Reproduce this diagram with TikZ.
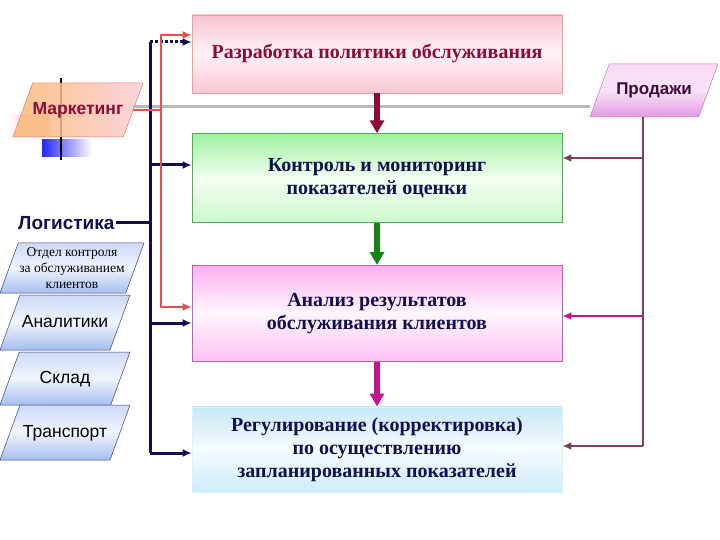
\documentclass[tikz,border=0pt]{standalone}
\usepackage{fontspec}
\setmainfont{Liberation Serif}
\setsansfont{Liberation Sans}
\usetikzlibrary{arrows.meta,positioning,shapes.geometric}
\definecolor{dred}{RGB}{139,10,58}
\definecolor{navy}{RGB}{16,16,80}
\definecolor{purl}{RGB}{128,64,96}
\definecolor{magl}{RGB}{196,20,150}
\definecolor{grnl}{RGB}{20,130,20}
\definecolor{redl}{RGB}{232,80,80}

\begin{document}
\begin{tikzpicture}[x=1pt,y=-1pt,
box/.style={draw=#1,line width=0.6pt,minimum width=370pt,align=center,text=navy,font=\bfseries\fontsize{20}{23}\selectfont},
pinkbox/.style={box=pink!80!red,top color={rgb,255:red,248;green,196;blue,208},bottom color={rgb,255:red,248;green,200;blue,212},middle color={rgb,255:red,255;green,242;blue,245}},
greenbox/.style={box=green!40!gray,top color={rgb,255:red,160;green,240;blue,160},bottom color={rgb,255:red,205;green,248;blue,205},middle color={rgb,255:red,242;green,255;blue,242}},
magbox/.style={box=violet!60,top color={rgb,255:red,255;green,176;blue,240},bottom color={rgb,255:red,255;green,192;blue,246},middle color={rgb,255:red,255;green,246;blue,253}},
bluebox/.style={box=cyan!15,top color={rgb,255:red,200;green,232;blue,248},bottom color={rgb,255:red,205;green,236;blue,250},middle color={rgb,255:red,246;green,251;blue,255}},
para/.style={trapezium,trapezium left angle=70,trapezium right angle=110,trapezium stretches body,minimum width=130pt,inner xsep=0pt,align=center},
pone/.style={para,text height=12pt,text depth=3pt,inner ysep=19.5pt},
bcol/.style={draw=navy!80,line width=0.5pt,top color={rgb,255:red,205;green,218;blue,248},bottom color={rgb,255:red,165;green,190;blue,240},middle color={rgb,255:red,240;green,244;blue,252},font=\sffamily\fontsize{17.5}{20}\selectfont},
arr/.style={-{Latex[length=9pt,width=8pt]}},
fat/.style={line width=5.5pt,-{Triangle[length=13pt,width=14pt]}},
navyl/.style={navy,line width=3pt},
redlin/.style={redl,line width=2pt},
purlin/.style={purl,line width=2.5pt}]
\useasboundingbox (0,0) rectangle (720,540);

% main chain
\node[pinkbox,minimum height=78pt,text=dred] (b1) at (377,54) {Разработка политики обслуживания};
\node[greenbox,minimum height=89pt,below=40pt of b1] (b2) {Контроль и мониторинг\\показателей оценки};
\node[magbox,minimum height=96pt,below=42pt of b2] (b3) {Анализ результатов\\обслуживания клиентов};
\node[bluebox,minimum height=85pt,below=45pt of b3] (b4) {Регулирование (корректировка)\\по осуществлению\\запланированных показателей};

% marketing
\shade[left color=pink!10,right color={rgb,255:red,245;green,170;blue,180}] (10,115) rectangle (50,137);
\shade[left color=blue!85,right color=white] (42,140) rectangle (92,157);
\draw[black,line width=2.5pt] (61,78) -- (61,160);
\node[pone,draw=redl!80,line width=0.5pt,fill opacity=0.85,text opacity=1,left color={rgb,255:red,250;green,185;blue,110},right color={rgb,255:red,250;green,205;blue,212},text=dred,font=\sffamily\bfseries\fontsize{17.5}{20}\selectfont] (mk) at (78,110) {Маркетинг};
\node[pone,minimum width=128pt,inner ysep=19pt,draw=violet!50,line width=0.5pt,top color={rgb,255:red,250;green,218;blue,246},bottom color={rgb,255:red,226;green,155;blue,226},middle color={rgb,255:red,250;green,225;blue,248},text={rgb,255:red,60;green,10;blue,60},font=\sffamily\bfseries\fontsize{17}{20}\selectfont] (pr) at (654,90.5) {Продажи};

% logistics
\node[anchor=west,text=navy,font=\sffamily\bfseries\fontsize{19}{22}\selectfont,inner sep=1pt] (lg) at (17,223) {Логистика};
\node[para,bcol,minimum width=144pt,inner ysep=4.5pt,font=\fontsize{13.5}{16}\selectfont] (ot) at (72,268) {Отдел контроля\\за обслуживанием\\клиентов};
\node[pone,bcol,inner ysep=20pt] (an) at (65,322.5) {Аналитики};
\node[pone,bcol,inner ysep=19pt] (sk) at (65,378.5) {Склад};
\node[pone,bcol,inner ysep=20pt] (tr) at (65,432.5) {Транспорт};

% connectors
\draw[gray!55,line width=3pt] ([yshift=3pt]mk.east) -- ([yshift=3pt]mk.east -| pr.bottom left corner);
\draw[fat,dred] (b1.south) -- (b1.south |- b2.north);
\draw[fat,grnl] (b2.south) -- (b2.south |- b3.north);
\draw[fat,magl] (b3.south) -- (b3.south |- b4.north);

\coordinate (n0) at (150,42);
\coordinate (n2) at (150,165);
\coordinate (n3) at (150,323);
\coordinate (n4) at (150,453);
\draw[navyl] (n0) -- (n4);
\draw[navyl] (lg.east) -- (lg.east -| n0);
\draw[navyl,dotted,arr] (n0) -- (n0 -| b1.west);
\draw[navyl,arr] (n2) -- (n2 -| b2.west);
\draw[navyl,arr] (n3) -- (n3 -| b3.west);
\draw[navyl,arr] (n4) -- (n4 -| b4.west);

\coordinate (r0) at (161,35);
\coordinate (r3) at (161,307);
\draw[redlin] (mk.east) -- (mk.east -| r0);
\draw[redlin,arr] (mk.east -| r0) -- (r0) -- (r0 -| b1.west);
\draw[redlin,arr] (mk.east -| r0) -- (r3) -- (r3 -| b3.west);

\coordinate (p1) at (643,158);
\coordinate (p2) at (643,316);
\coordinate (p3) at (643,446);
\draw[purlin] (pr.south -| p1) -- (p3);
\draw[purlin,arr] (p1) -- (p1 -| b2.east);
\draw[magl,line width=2.5pt,arr] (p2) -- (p2 -| b3.east);
\draw[purlin,arr] (p3) -- (p3 -| b4.east);
\end{tikzpicture}
\end{document}
